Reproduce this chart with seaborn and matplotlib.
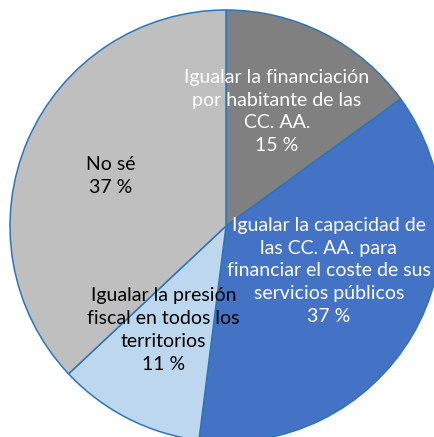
import matplotlib
matplotlib.use('Agg')
import matplotlib.pyplot as plt
import seaborn as sns
import numpy as np

categories = [
    'Igualar la financiación\npor habitante de las\nCC. AA.',
    'Igualar la capacidad de\nlas CC. AA. para\nfinanciar el coste de sus\nservicios públicos',
    'Igualar la presión\nfiscal en todos los\nterritorios',
    'No sé',
]
values = [15, 37, 11, 37]
colors = ['#808080', '#4472C4', '#BDD7EE', '#BFBFBF']
text_colors = ['white', 'white', 'black', 'black']
label_dist = [0.58, 0.52, 0.56, 0.58]
label_shift = [3, 7, -4, 0]  # degrees, nudges along the arc

sns.set_theme(style='white')
plt.rcParams['font.family'] = ['Lato', 'DejaVu Sans']

fig = plt.figure(figsize=(4.35, 4.37), dpi=100)
ax = fig.add_axes([0, 0, 1, 1])

labels = [f'{c}\n{v} %' for c, v in zip(categories, values)]
wedges, texts = ax.pie(values, colors=colors, startangle=90, counterclock=False,
                       labels=labels, labeldistance=0.55,
                       wedgeprops=dict(edgecolor='#2E75B6', linewidth=1.1))

# move each label to its own radius along the slice middle
for w, t, d, s, tc in zip(wedges, texts, label_dist, label_shift, text_colors):
    ang = np.deg2rad((w.theta1 + w.theta2) / 2 + s)
    t.set_position((d * np.cos(ang), d * np.sin(ang)))
    t.set_ha('center')
    t.set_va('center')
    t.set_multialignment('center')
    t.set_color(tc)
    t.set_fontsize(14)
    t.set_linespacing(1.42)

ax.set_xlim(-226 / 216, (435 - 226) / 216)
ax.set_ylim(-211 / 216, 226 / 216)
ax.set_aspect('auto')
ax.axis('off')

plt.savefig('out.png', dpi=100)
plt.close()
